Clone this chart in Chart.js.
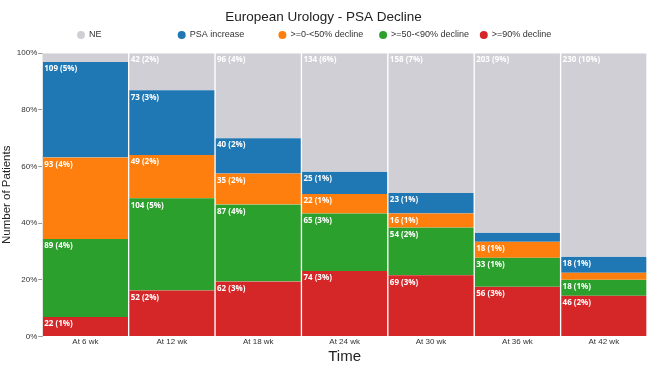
<!DOCTYPE html>
<html lang="en">
<head>
<meta charset="utf-8">
<title>European Urology - PSA Decline</title>
<script src="https://cdn.jsdelivr.net/npm/chart.js@4.4.1/dist/chart.umd.min.js"></script>
<style>
body {margin: 0; background: #fff;}
#zone {position: relative; width: 650px; height: 376px;}
</style>
</head>
<body>
<div id="zone"><canvas id="graphique"></canvas></div>
<script>
// categories (x axis)
var semaines = ['At 6 wk', 'At 12 wk', 'At 18 wk', 'At 24 wk', 'At 30 wk', 'At 36 wk', 'At 42 wk'];

// number of patients per response group, bottom to top of each bar
var decl90 = [22, 52, 62, 74, 69, 56, 46];
var decl50_90 = [89, 104, 87, 65, 54, 33, 18];
var decl0_50 = [93, 49, 35, 22, 16, 18, 8];
var psaIncrease = [109, 73, 40, 25, 23, 10, 18];
var ne = [10, 42, 96, 134, 158, 203, 230];

// total population used for the (x%) in the labels
var totalPatients = 2220;

// tick labels of the y axis
var yTicks = [0, 20, 40, 60, 80, 100];

var groupes = [
	{nom: '>=90% decline', comptes: decl90, couleur: '#d62728'},
	{nom: '>=50-<90% decline', comptes: decl50_90, couleur: '#2ca02c'},
	{nom: '>=0-<50% decline', comptes: decl0_50, couleur: '#ff7f0e'},
	{nom: 'PSA increase', comptes: psaIncrease, couleur: '#1f77b4'},
	{nom: 'NE', comptes: ne, couleur: '#d1cfd6'}
];

// total of each column, to stack to 100%
var totaux = semaines.map(function (s, i) {
	return groupes.reduce(function (acc, g) { return acc + g.comptes[i]; }, 0);
});

var datasets = groupes.map(function (g) {
	return {
		label: g.nom,
		comptes: g.comptes,
		data: g.comptes.map(function (v, i) { return v / totaux[i] * 100; }),
		backgroundColor: g.couleur,
		borderColor: '#ffffff',
		borderWidth: {left: 1, right: 1, top: 0, bottom: 0},
		borderSkipped: false,
		categoryPercentage: 1,
		barPercentage: 1
	};
});

// legend drawn at fixed spacing, in the order NE -> >=90%
const legendePlugin = {
	id: 'legende',
	afterDraw(chart) {
		const ctx = chart.ctx;
		ctx.save();
		ctx.font = '9px "Liberation Sans", Arial, sans-serif';
		ctx.textBaseline = 'middle';
		var items = groupes.slice().reverse();
		for (var i = 0; i < items.length; i++) {
			var x = 81 + i * 100.7;
			ctx.beginPath();
			ctx.arc(x, 35, 4, 0, Math.PI * 2);
			ctx.fillStyle = items[i].couleur;
			ctx.fill();
			ctx.fillStyle = '#333';
			ctx.fillText(items[i].nom, x + 8, 35);
		}
		ctx.restore();
	}
};

// "n (x%)" labels in the top left corner of each segment
const etiquettesPlugin = {
	id: 'etiquettes',
	afterDatasetsDraw(chart) {
		const ctx = chart.ctx;
		ctx.save();
		ctx.font = 'bold 8px "Open Sans", sans-serif';
		ctx.fillStyle = '#ffffff';
		ctx.textBaseline = 'top';
		chart.data.datasets.forEach(function (ds, d) {
			var meta = chart.getDatasetMeta(d);
			meta.data.forEach(function (bar, i) {
				if (bar.base - bar.y < 12) return;
				var n = ds.comptes[i];
				var texte = n + ' (' + Math.round(n / totalPatients * 100) + '%)';
				ctx.fillText(texte, bar.x - bar.width / 2 + 2, bar.y + 3);
			});
		});
		ctx.restore();
	}
};

new Chart(document.getElementById('graphique'), {
	type: 'bar',
	data: {labels: semaines, datasets: datasets},
	options: {
		responsive: true,
		maintainAspectRatio: false,
		animation: false,
		layout: {padding: {left: 0, right: 3, top: 0, bottom: 10}},
		plugins: {
			legend: {display: false},
			tooltip: {enabled: false},
			title: {
				display: true,
				text: 'European Urology - PSA Decline',
				color: '#222',
				font: {family: '"Liberation Sans", Arial, sans-serif', size: 13.5, weight: 'normal'},
				padding: {top: 9, bottom: 28}
			}
		},
		scales: {
			x: {
				stacked: true,
				grid: {display: false, drawTicks: false},
				border: {display: false},
				ticks: {color: '#333', font: {family: '"Liberation Sans", Arial, sans-serif', size: 8}, padding: 1},
				title: {display: true, text: 'Time', color: '#222', font: {family: '"Liberation Sans", Arial, sans-serif', size: 15}, padding: {top: 0, bottom: 0}}
			},
			y: {
				stacked: true,
				min: 0,
				max: 100,
				afterBuildTicks: function (axis) {
					axis.ticks = yTicks.map(function (v) { return {value: v}; });
				},
				grid: {drawOnChartArea: false, color: '#999', tickLength: 4},
				border: {color: '#aaa'},
				ticks: {
					color: '#333',
					font: {family: '"Liberation Sans", Arial, sans-serif', size: 8},
					padding: 1,
					callback: function (v) { return v + '%'; }
				},
				title: {display: true, text: 'Number of Patients', color: '#222', font: {family: '"Liberation Sans", Arial, sans-serif', size: 11.5}, padding: {top: 0, bottom: 2}}
			}
		}
	},
	plugins: [etiquettesPlugin, legendePlugin]
});
</script>
</body>
</html>
